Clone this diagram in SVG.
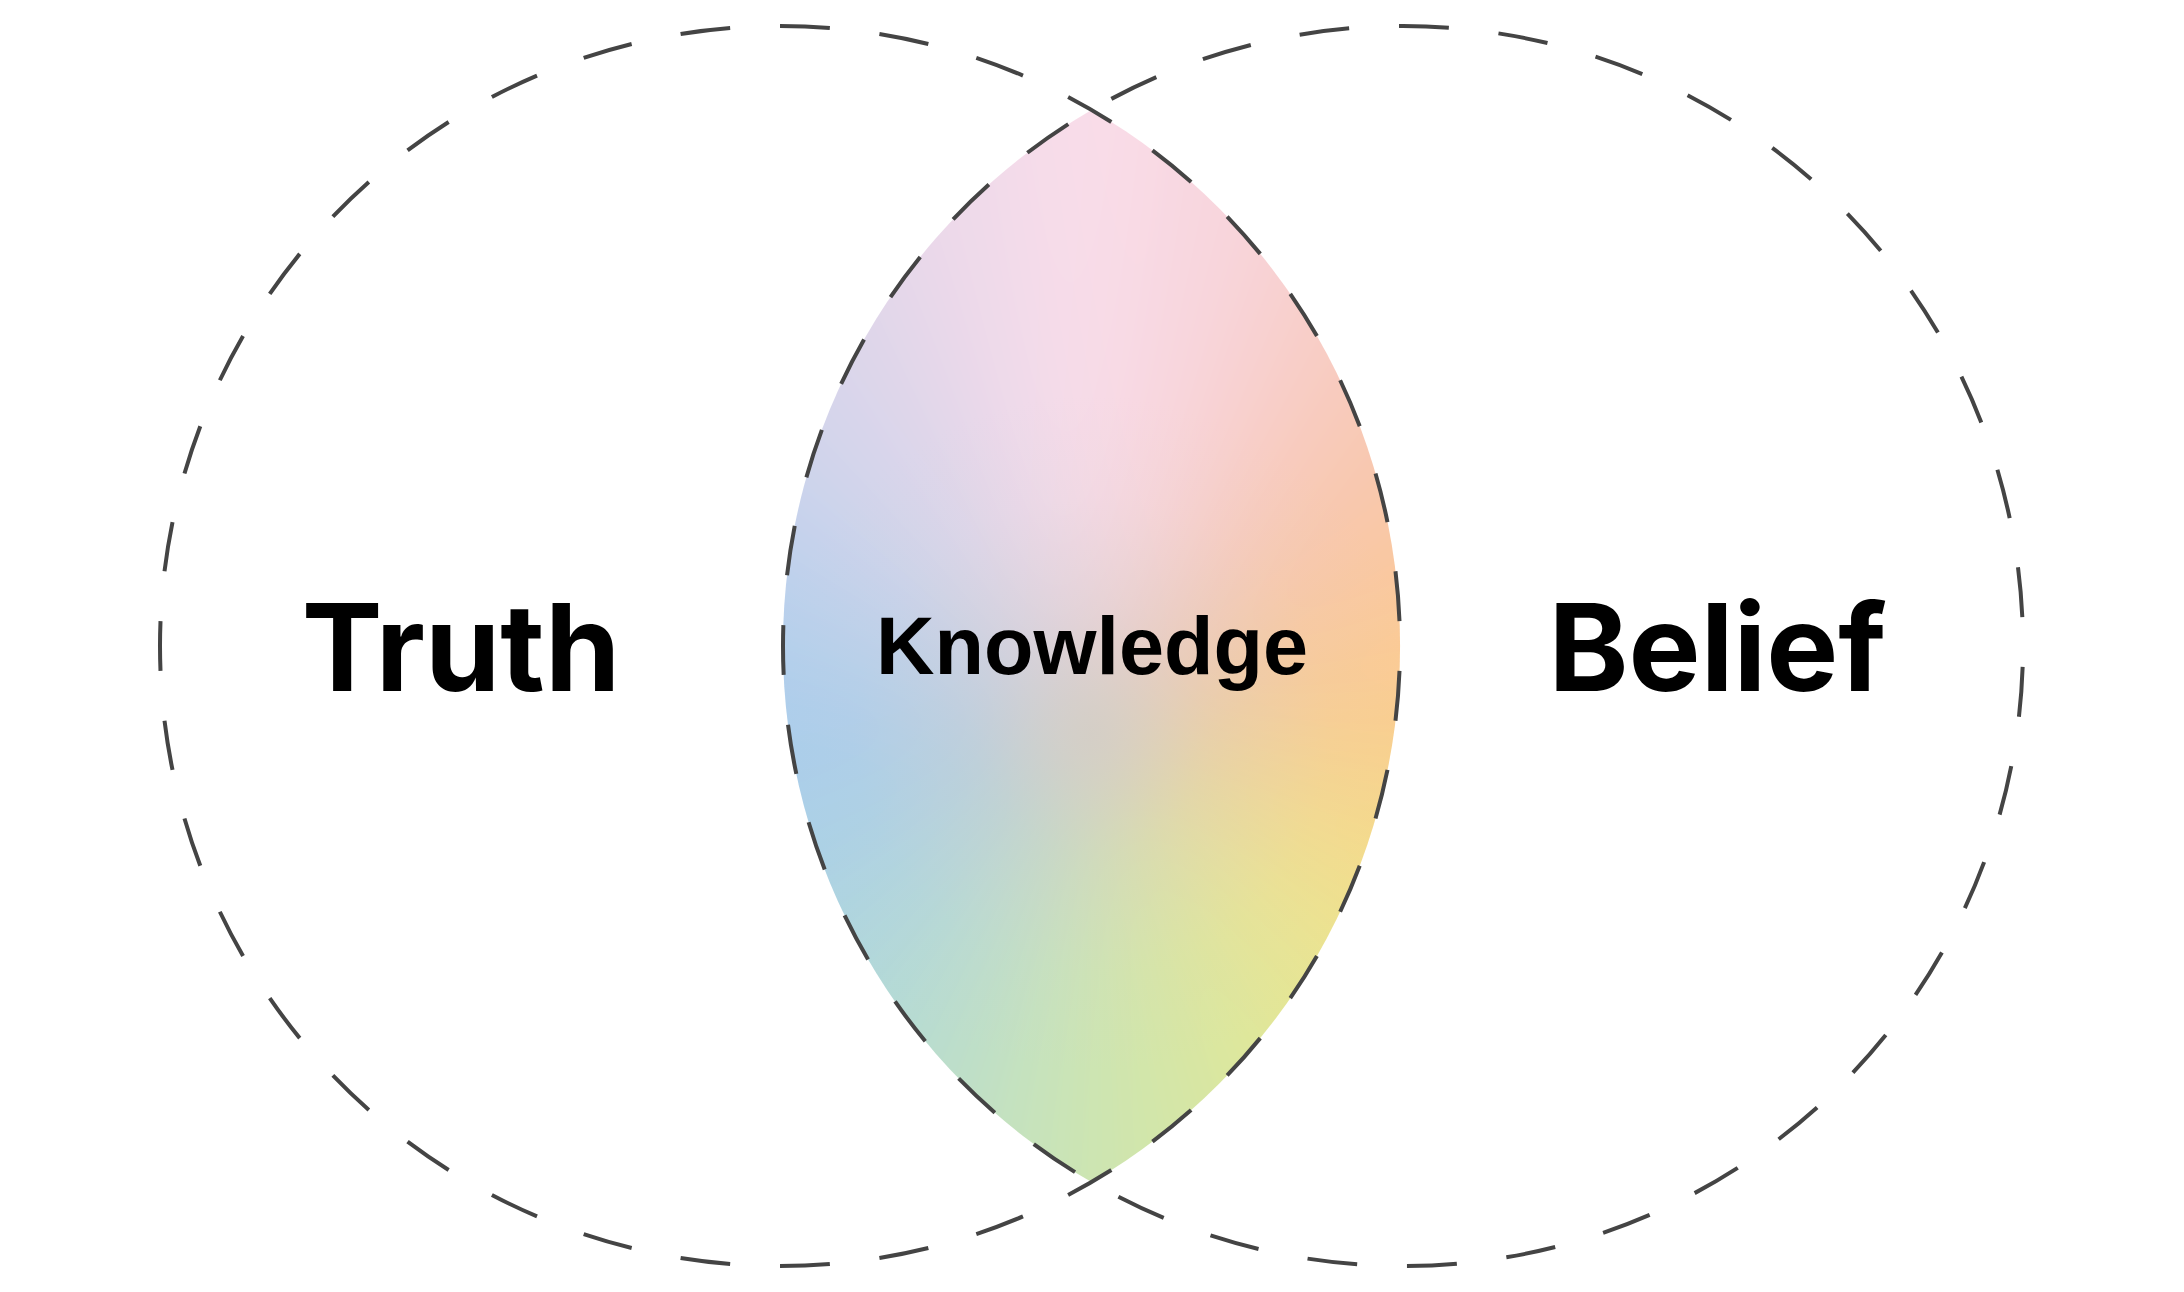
<svg xmlns="http://www.w3.org/2000/svg" xmlns:xlink="http://www.w3.org/1999/xlink" width="2184" height="1292" viewBox="0 0 2184 1292">
  <style>
    .ring { fill: none; stroke: #444444; stroke-width: 4; stroke-dasharray: 50 50; }
    .big { font-family: Inter, "Liberation Sans", sans-serif; font-weight: 700; font-size: 121px; fill: #000; text-anchor: middle; }
    .mid { font-family: "Liberation Sans", Arial, sans-serif; font-weight: 700; font-size: 81px; fill: #000; text-anchor: middle; }
  </style>
  <defs>
    <path id="w" d="M1092,734 L2082.3,594.8 L2082.3,873.2 Z"/>
    <clipPath id="lensClip">
      <path d="M1091.5,109.9 A620,620 0 0,1 1091.5,1182.1 A620,620 0 0,1 1091.5,109.9 Z"/>
    </clipPath>
    <filter id="soft" filterUnits="userSpaceOnUse" x="0" y="0" width="2184" height="1292">
      <feGaussianBlur stdDeviation="55"/>
    </filter>
    <radialGradient id="haze" gradientUnits="userSpaceOnUse" cx="1092" cy="734" r="340">
      <stop offset="0" stop-color="#d3cdc6" stop-opacity="0.85"/>
      <stop offset="0.35" stop-color="#d3cdc8" stop-opacity="0.4"/>
      <stop offset="0.7" stop-color="#d6d0cc" stop-opacity="0.1"/>
      <stop offset="1" stop-color="#d6d0cc" stop-opacity="0"/>
    </radialGradient>
  </defs>
  <rect width="2184" height="1292" fill="#ffffff"/>

  <g id="knowledge-lens">
    <g clip-path="url(#lensClip)">
      <g filter="url(#soft)">
        <use xlink:href="#w" fill="#face8d" transform="rotate(0 1092 734)"/>
        <use xlink:href="#w" fill="#f7d78b" transform="rotate(15 1092 734)"/>
        <use xlink:href="#w" fill="#f3e08a" transform="rotate(30 1092 734)"/>
        <use xlink:href="#w" fill="#e9e491" transform="rotate(45 1092 734)"/>
        <use xlink:href="#w" fill="#e1e798" transform="rotate(60 1092 734)"/>
        <use xlink:href="#w" fill="#d6e6a4" transform="rotate(75 1092 734)"/>
        <use xlink:href="#w" fill="#cde5b0" transform="rotate(90 1092 734)"/>
        <use xlink:href="#w" fill="#c2e1c2" transform="rotate(105 1092 734)"/>
        <use xlink:href="#w" fill="#b8dcd0" transform="rotate(120 1092 734)"/>
        <use xlink:href="#w" fill="#b0d8db" transform="rotate(135 1092 734)"/>
        <use xlink:href="#w" fill="#acd3e3" transform="rotate(150 1092 734)"/>
        <use xlink:href="#w" fill="#a9cfe9" transform="rotate(165 1092 734)"/>
        <use xlink:href="#w" fill="#a8cdec" transform="rotate(180 1092 734)"/>
        <use xlink:href="#w" fill="#b2cfec" transform="rotate(195 1092 734)"/>
        <use xlink:href="#w" fill="#bfd1ec" transform="rotate(210 1092 734)"/>
        <use xlink:href="#w" fill="#d0d4eb" transform="rotate(225 1092 734)"/>
        <use xlink:href="#w" fill="#ddd6ea" transform="rotate(240 1092 734)"/>
        <use xlink:href="#w" fill="#edd9ea" transform="rotate(255 1092 734)"/>
        <use xlink:href="#w" fill="#f9dde9" transform="rotate(270 1092 734)"/>
        <use xlink:href="#w" fill="#f8d5dd" transform="rotate(285 1092 734)"/>
        <use xlink:href="#w" fill="#f8cdc6" transform="rotate(300 1092 734)"/>
        <use xlink:href="#w" fill="#f8c8b0" transform="rotate(315 1092 734)"/>
        <use xlink:href="#w" fill="#f9c8a2" transform="rotate(330 1092 734)"/>
        <use xlink:href="#w" fill="#fbca93" transform="rotate(345 1092 734)"/>
      </g>
      <rect x="400" y="0" width="1400" height="1292" fill="url(#haze)"/>
    </g>
    <text class="mid" x="1092" y="674">Knowledge</text>
  </g>

  <g id="connectors">
    <circle id="truth-ring" class="ring" cx="780" cy="646" r="620" pathLength="3900" stroke-dashoffset="75"/>
    <circle id="belief-ring" class="ring" cx="1403" cy="646" r="620" pathLength="3900" stroke-dashoffset="-21"/>
  </g>

  <g id="truth">
    <text class="big" x="461" y="691">Truth</text>
  </g>
  <g id="belief">
    <text class="big" x="1717.5" y="691">Belief</text>
  </g>
</svg>
